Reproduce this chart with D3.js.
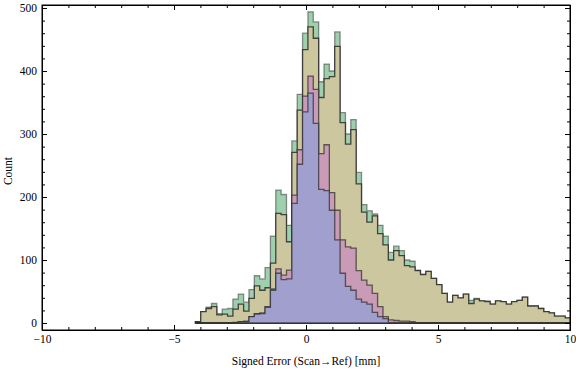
<!DOCTYPE html>
<html>
<head>
<meta charset="utf-8">
<script src="https://cdn.jsdelivr.net/npm/d3@7"></script>
<style>
  body { margin: 0; background: #fff; }
  svg text { font-family: "Liberation Serif", "Times New Roman", serif; }
</style>
</head>
<body>
<div id="chart"></div>
<script>
// Set the dimensions of the chart
const width = 576;
const height = 370;
const frame = { left: 42, right: 570, top: 5, bottom: 330 };

// bins of the histogram (signed error in mm)
const binStart = -4.19;
const binWidth = 0.203;

// counts per bin, drawn back to front
const greenCounts = [2, 18, 25, 31, 15, 22, 23, 38, 46, 33, 53, 75, 70, 88, 138, 211, 204, 155, 289, 363,
  460, 494, 478, 383, 411, 400, 462, 334, 300, 323, 239, 188, 178, 173, 155, 138, 112, 122, 115, 100,
  98, 84, 77, 82, 71, 61, 47, 33, 44, 40, 46, 36, 39, 35, 35, 30, 35, 34, 30, 34,
  36, 41, 27, 27, 23, 18, 16, 11, 11, 8];
const khakiCounts = [2, 18, 23, 26, 13, 14, 11, 22, 30, 19, 39, 59, 52, 56, 95, 174, 172, 129, 271, 338,
  434, 470, 452, 358, 388, 391, 439, 318, 284, 307, 221, 176, 160, 170, 142, 124, 100, 115, 107, 91,
  89, 83, 77, 82, 71, 61, 47, 33, 44, 40, 46, 31, 38, 35, 34, 30, 35, 34, 30, 34,
  36, 41, 27, 27, 23, 18, 16, 11, 11, 8];
const pinkCounts = [0, 0, 0, 0, 0, 0, 0, 1, 2, 3, 10, 15, 16, 26, 54, 86, 76, 84, 203, 275,
  360, 392, 371, 269, 283, 207, 179, 132, 121, 119, 83, 68, 60, 47, 26, 10, 5, 4, 3, 3,
  2, 0, 0, 0, 0, 0, 0, 0, 0, 0, 0, 0, 0, 0, 0, 0, 0, 0, 0, 0,
  0, 0, 0, 0, 0, 0, 0, 0, 0, 0];
const blueCounts = [0, 0, 0, 0, 0, 0, 0, 0, 2, 2, 10, 14, 15, 25, 52, 79, 69, 70, 190, 252,
  335, 365, 317, 212, 210, 179, 132, 79, 58, 52, 38, 33, 30, 17, 10, 7, 0, 0, 0, 0,
  0, 0, 0, 0, 0, 0, 0, 0, 0, 0, 0, 0, 0, 0, 0, 0, 0, 0, 0, 0,
  0, 0, 0, 0, 0, 0, 0, 0, 0, 0];

const seriesList = [
  { counts: greenCounts, fill: "#9fd0ad", edge: 0.5 },
  { counts: khakiCounts, fill: "#ccc79e", edge: 0.85 },
  { counts: pinkCounts, fill: "#c99bb6", edge: 0.7 },
  { counts: blueCounts, fill: "#a09fcd", edge: 0.7 }
];

// axis ticks
const xMajor = [-10, -5, 0, 5, 10];
const xMinor = d3.range(-10, 11, 1).filter(v => v % 5 !== 0);
const yMajor = [0, 100, 200, 300, 400, 500];
const yMinor = d3.range(-0, 501, 20).filter(v => v % 100 !== 0);

const svg = d3.select("#chart")
  .append("svg")
  .attr("width", width)
  .attr("height", height);

// scales
const x = d3.scaleLinear().domain([-10, 10]).range([frame.left, frame.right]);
const y = d3.scaleLinear().domain([-11.1, 504.8]).range([frame.bottom, frame.top]);

svg.append("clipPath")
  .attr("id", "plotclip")
  .append("rect")
  .attr("x", frame.left)
  .attr("y", frame.top)
  .attr("width", frame.right - frame.left)
  .attr("height", frame.bottom - frame.top);

// step shaped area for each series
const area = d3.area()
  .x(d => x(d.x))
  .y0(y(0))
  .y1(d => y(d.c))
  .curve(d3.curveStepAfter);

const plot = svg.append("g").attr("clip-path", "url(#plotclip)");

seriesList.forEach(function(s) {
  const pts = s.counts.map((c, i) => ({ x: binStart + i * binWidth, c: c }));
  pts.push({ x: binStart + s.counts.length * binWidth, c: s.counts[s.counts.length - 1] });
  plot.append("path")
    .datum(pts)
    .attr("d", area)
    .attr("fill", s.fill)
    .attr("stroke", "#2a2a2a")
    .attr("stroke-opacity", s.edge)
    .attr("stroke-width", 1.3)
    .attr("stroke-linejoin", "miter");
});

// frame axes with ticks pointing inward
function addAxis(axisFn, scale, values, size, labels, transform) {
  const a = axisFn(scale).tickValues(values).tickSizeInner(-size).tickSizeOuter(0).tickPadding(labels ? 5 : 0);
  if (!labels) a.tickFormat("");
  const g = svg.append("g").attr("transform", transform).call(a);
  g.selectAll("line").attr("stroke", "#000");
  g.select(".domain").attr("stroke", "#000");
  g.selectAll("text").style("font-size", "11.5px").attr("fill", "#000");
  return g;
}

const bottomT = "translate(0," + frame.bottom + ")";
const topT = "translate(0," + frame.top + ")";
const leftT = "translate(" + frame.left + ",0)";
const rightT = "translate(" + frame.right + ",0)";

addAxis(d3.axisBottom, x, xMinor, 3, false, bottomT);
addAxis(d3.axisBottom, x, xMajor, 5, true, bottomT);
addAxis(d3.axisTop, x, xMinor, 3, false, topT);
addAxis(d3.axisTop, x, xMajor, 5, false, topT);
addAxis(d3.axisLeft, y, yMinor, 3, false, leftT);
addAxis(d3.axisLeft, y, yMajor, 5, true, leftT);
addAxis(d3.axisRight, y, yMinor, 3, false, rightT);
addAxis(d3.axisRight, y, yMajor, 5, false, rightT);

// close the frame at the edges
svg.append("rect")
  .attr("x", frame.left)
  .attr("y", frame.top)
  .attr("width", frame.right - frame.left)
  .attr("height", frame.bottom - frame.top)
  .attr("fill", "none")
  .attr("stroke", "#000");

// axis titles
svg.append("text")
  .attr("x", (frame.left + frame.right) / 2)
  .attr("y", 365)
  .attr("text-anchor", "middle")
  .style("font-size", "11.5px")
  .text("Signed Error (Scan\u2192Ref) [mm]");

svg.append("text")
  .attr("transform", "translate(12,171) rotate(-90)")
  .attr("text-anchor", "middle")
  .style("font-size", "11.5px")
  .text("Count");
</script>
</body>
</html>
